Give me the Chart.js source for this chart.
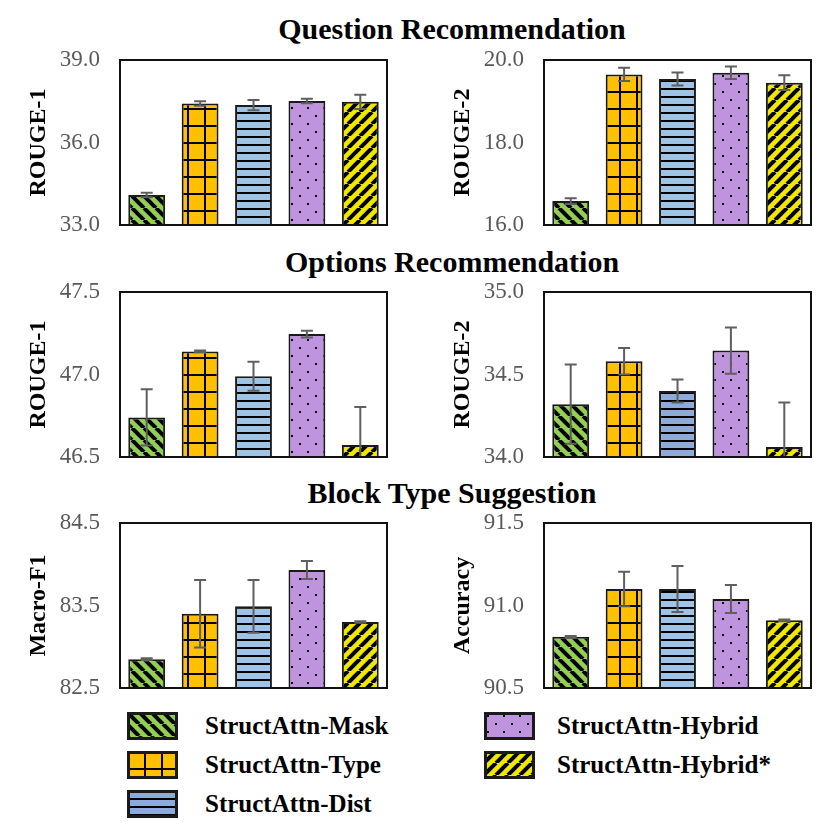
<!DOCTYPE html>
<html>
<head>
<meta charset="utf-8">
<script src="https://cdn.jsdelivr.net/npm/chart.js@4.4.1/dist/chart.umd.min.js"></script>
<style>
body { margin:0; background:#fff; }
#wrap { position:relative; width:830px; height:830px; overflow:hidden; font-family:"Liberation Serif", "Times New Roman", serif; }
.title { position:absolute; left:0; width:904px; text-align:center; font-weight:bold; font-size:30px; color:#000; line-height:34px; }
.pan { position:absolute; width:400px; height:200px; }
.leg { position:absolute; font-weight:bold; font-size:25px; line-height:28px; color:#000; white-space:nowrap; }
.sw { position:absolute; }
</style>
</head>
<body>
<div id="wrap">
  <div class="title" style="top:12px">Question Recommendation</div>
  <div class="title" style="top:245px">Options Recommendation</div>
  <div class="title" style="top:476px">Block Type Suggestion</div>
  <canvas class="pan" id="c0" width="400" height="200" style="left:0;top:40px"></canvas>
  <canvas class="pan" id="c1" width="400" height="200" style="left:415px;top:40px"></canvas>
  <canvas class="pan" id="c2" width="400" height="200" style="left:0;top:272px"></canvas>
  <canvas class="pan" id="c3" width="400" height="200" style="left:415px;top:272px"></canvas>
  <canvas class="pan" id="c4" width="400" height="200" style="left:0;top:503px"></canvas>
  <canvas class="pan" id="c5" width="400" height="200" style="left:415px;top:503px"></canvas>
  <div id="legend"></div>
</div>
<script>
// методы (категории)
const methods = ['StructAttn-Mask', 'StructAttn-Type', 'StructAttn-Dist', 'StructAttn-Hybrid', 'StructAttn-Hybrid*'];

// Question Recommendation
const qRouge1 = [34.09, 37.42, 37.36, 37.51, 37.48];
const qRouge1Err = [0.08, 0.08, 0.19, 0.08, 0.26];
const qRouge2 = [16.58, 19.65, 19.54, 19.69, 19.45];
const qRouge2Err = [0.07, 0.16, 0.16, 0.15, 0.18];
// Options Recommendation
const oRouge1 = [46.74, 47.14, 46.99, 47.245, 46.573];
const oRouge1Err = [0.17, 0.005, 0.088, 0.02, 0.23];
const oRouge2 = [34.32, 34.58, 34.40, 34.645, 34.06];
const oRouge2Err = [0.24, 0.08, 0.07, 0.14, 0.27];
// Block Type Suggestion
const bMacroF1 = [82.85, 83.40, 83.49, 83.93, 83.30];
const bMacroF1Err = [0.01, 0.41, 0.32, 0.11, 0.01];
const bAccuracy = [90.81, 91.10, 91.10, 91.04, 90.91];
const bAccuracyErr = [0.005, 0.105, 0.14, 0.085, 0.005];

// оси: min, max, шаг
const axisQR1 = [33.0, 39.0, 3.0];
const axisQR2 = [16.0, 20.0, 2.0];
const axisOR1 = [46.5, 47.5, 0.5];
const axisOR2 = [34.0, 35.0, 0.5];
const axisBF1 = [82.5, 84.5, 1.0];
const axisBAcc = [90.5, 91.5, 0.5];

// штриховки
function makePattern(kind, blue){
	const t = document.createElement('canvas');
	const ctx = t.getContext('2d');
	let n = 12;
	if (kind === 'grid') n = 17;
	if (kind === 'hlines') n = 8;
	if (kind === 'dots') n = 16;
	t.width = n; t.height = n;
	ctx.fillStyle = {diagBack:'#92d050', grid:'#ffc000', hlines: blue || '#9dc3e6', dots:'#bf93dd', diagFwd:'#f0e800'}[kind];
	ctx.fillRect(0, 0, n, n);
	ctx.fillStyle = '#000';
	ctx.strokeStyle = '#000';
	if (kind === 'diagBack' || kind === 'diagFwd'){
		ctx.lineWidth = 4;
		for (let k = -1; k <= 1; k++){
			ctx.beginPath();
			if (kind === 'diagBack'){
				ctx.moveTo(k*n, 0); ctx.lineTo(k*n + n, n);
			} else {
				ctx.moveTo(k*n, n); ctx.lineTo(k*n + n, 0);
			}
			ctx.stroke();
		}
	} else if (kind === 'grid'){
		ctx.fillRect(0, 0, n, 2);
		ctx.fillRect(0, 0, 2, n);
	} else if (kind === 'hlines'){
		ctx.fillRect(0, 0, n, 2);
	} else if (kind === 'dots'){
		ctx.fillRect(3, 3, 2, 2);
		ctx.fillRect(11, 11, 2, 2);
	}
	return ctx.createPattern(t, 'repeat');
}
const kinds = ['diagBack', 'grid', 'hlines', 'dots', 'diagFwd'];

// рамка графика и планки погрешностей
const framePlugin = {
	id: 'frame',
	afterDatasetsDraw(chart){
		const a = chart.chartArea, ctx = chart.ctx;
		const err = chart.options.plugins.frame.err;
		const ys = chart.scales.y;
		const meta = chart.getDatasetMeta(0);
		ctx.save();
		ctx.beginPath();
		ctx.rect(a.left, a.top, a.right - a.left, a.bottom - a.top);
		ctx.clip();
		ctx.strokeStyle = '#5f5f5f';
		ctx.lineWidth = 2;
		meta.data.forEach((bar, i) => {
			const v = chart.data.datasets[0].data[i];
			const y1 = ys.getPixelForValue(v + err[i]);
			const y2 = ys.getPixelForValue(v - err[i]);
			ctx.beginPath();
			ctx.moveTo(bar.x, y1); ctx.lineTo(bar.x, y2);
			ctx.moveTo(bar.x - 6, y1); ctx.lineTo(bar.x + 6, y1);
			ctx.moveTo(bar.x - 6, y2); ctx.lineTo(bar.x + 6, y2);
			ctx.stroke();
		});
		ctx.restore();
		ctx.save();
		ctx.strokeStyle = '#111';
		ctx.lineWidth = 2;
		ctx.strokeRect(a.left, a.top, a.right - a.left, a.bottom - a.top);
		ctx.restore();
	}
};

function makePanel(id, values, errs, axis, title, axisW, padRight, titlePad, blue){
	const bg = kinds.map(k => makePattern(k, k === 'hlines' ? blue : null));
	return new Chart(document.getElementById(id), {
		type: 'bar',
		data: {
			labels: methods,
			datasets: [{
				data: values,
				backgroundColor: bg,
				borderColor: '#1a1a1a',
				borderWidth: 2,
				barPercentage: 0.69,
				categoryPercentage: 1.0
			}]
		},
		options: {
			responsive: false,
			animation: false,
			devicePixelRatio: 1,
			layout: {padding: {top: 0, bottom: 0, left: 0, right: padRight}},
			plugins: {legend: {display: false}, tooltip: {enabled: false}, frame: {err: errs}},
			scales: {
				x: {display: false},
				y: {
					min: axis[0], max: axis[1],
					grid: {display: false, drawTicks: false},
					border: {display: false},
					ticks: {
						stepSize: axis[2],
						padding: 20,
						color: '#595959',
						font: {family: 'Liberation Serif', size: 23},
						callback: v => v.toFixed(1)
					},
					title: {
						display: true, text: title, color: '#000',
						font: {family: 'Liberation Serif', size: 24, weight: 'bold'},
						padding: {top: titlePad, bottom: 0}
					},
					afterFit(s){
						s.width = axisW;
						// отступы сверху/снизу, иначе padding подписей съедает высоту
						s.paddingTop = 20;
						s.paddingBottom = 15;
					}
				}
			}
		},
		plugins: [framePlugin]
	});
}

makePanel('c0', qRouge1, qRouge1Err, axisQR1, 'ROUGE-1', 120, 13, 24);
makePanel('c1', qRouge2, qRouge2Err, axisQR2, 'ROUGE-2', 129, 4, 33);
makePanel('c2', oRouge1, oRouge1Err, axisOR1, 'ROUGE-1', 120, 13, 24);
makePanel('c3', oRouge2, oRouge2Err, axisOR2, 'ROUGE-2', 129, 4, 33, '#8eaadb');
makePanel('c4', bMacroF1, bMacroF1Err, axisBF1, 'Macro-F1', 120, 13, 24);
makePanel('c5', bAccuracy, bAccuracyErr, axisBAcc, 'Accuracy', 129, 4, 33);

// легенда
const legPos = [[127, 712], [127, 751], [127, 790], [484, 712], [484, 751]];
const legend = document.getElementById('legend');
methods.forEach((m, i) => {
	const c = document.createElement('canvas');
	c.className = 'sw';
	c.width = 51; c.height = 28;
	c.style.left = legPos[i][0] + 'px';
	c.style.top = legPos[i][1] + 'px';
	const ctx = c.getContext('2d');
	ctx.fillStyle = makePattern(kinds[i], kinds[i] === 'hlines' ? '#8eaadb' : null);
	ctx.fillRect(0, 0, 51, 28);
	ctx.strokeStyle = '#1a1a1a';
	ctx.lineWidth = 3;
	ctx.strokeRect(1.5, 1.5, 48, 25);
	legend.appendChild(c);
	const d = document.createElement('div');
	d.className = 'leg';
	d.textContent = m;
	d.style.left = (legPos[i][0] + (i < 3 ? 78 : 73)) + 'px';
	d.style.top = legPos[i][1] + 'px';
	legend.appendChild(d);
});
</script>
</body>
</html>
